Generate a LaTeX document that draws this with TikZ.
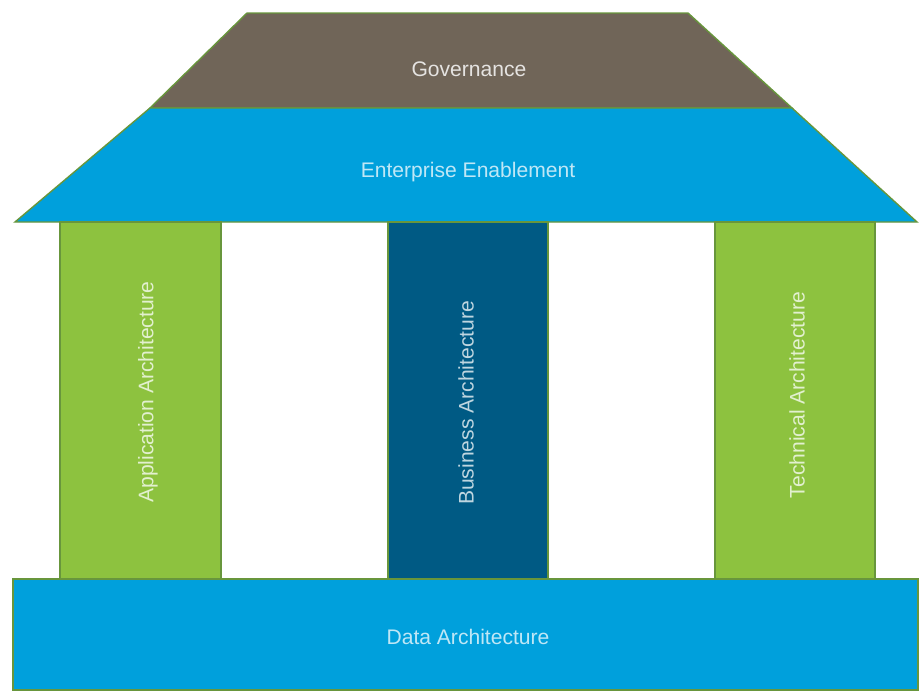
\documentclass[tikz,border=0pt]{standalone}
\usepackage{fontspec}
\setmainfont{Liberation Sans}
\definecolor{govbrown}{RGB}{112,101,88}
\definecolor{entblue}{RGB}{0,160,220}
\definecolor{pillgreen}{RGB}{141,194,63}
\definecolor{busblue}{RGB}{0,90,132}
\definecolor{edgegreen}{RGB}{104,150,60}
\tikzset{
  block/.style={draw=edgegreen, line width=0.8pt},
  lbl/.style={font=\fontsize{12}{14}\selectfont, inner sep=0pt},
}
\begin{document}
\begin{tikzpicture}[x=0.02cm,y=-0.02cm]
      \useasboundingbox (0,0) rectangle (919,691);
      % roof
      \draw[block, fill=govbrown] (247,13) -- (688,13) -- (792,108) -- (150,108) -- cycle;
      \draw[block, fill=entblue] (150,108) -- (792,108) -- (917,222) -- (15,222) -- cycle;
      % pillars
      \draw[block, fill=pillgreen] (60,222) rectangle (221,579);
      \draw[block, fill=busblue] (388,222) rectangle (548,579);
      \draw[block, fill=pillgreen] (715,222) rectangle (875,579);
      % base
      \draw[block, fill=entblue] (13,579) rectangle (918,690);
      % labels
      \path
        (469,69) node[lbl, text=white!82!govbrown] (gov) {Governance}
        (468,172) node[lbl, text=white!75!entblue] (ent) {Enterprise Enablement}
        (148,392) node[lbl, rotate=90, text=white!75!pillgreen] (app) {Application Architecture}
        (466,403) node[lbl, rotate=90, text=white!75!busblue] (bus) {Business Architecture}
        (797,395) node[lbl, rotate=90, text=white!75!pillgreen] (tech) {Technical Architecture}
        (468,637) node[lbl, text=white!75!entblue] (data) {Data Architecture};
    \end{tikzpicture}
\end{document}
